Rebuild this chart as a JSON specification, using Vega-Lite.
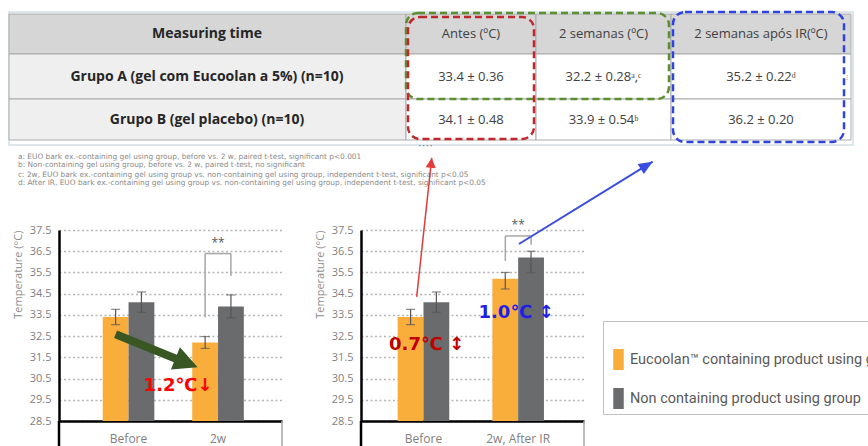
{
  "$schema": "https://vega.github.io/schema/vega-lite/v6.json",
  "background": "white",
  "padding": {"left": 8, "top": 10, "right": 0, "bottom": 0},
  "bounds": "flush",
  "spacing": 18,
  "config": {
    "view": {"stroke": null},
    "font": "Open Sans",
    "axis": {"labelFont": "Open Sans", "titleFont": "Open Sans", "ticks": false, "tickSize": 0, "domainColor": "#000000", "domainWidth": 2.5, "labelColor": "#7f7f7f", "titleColor": "#8c8c8c", "titleFontWeight": "normal", "labelOverlap": false, "labelBound": false},
    "axisY": {"grid": true, "gridColor": "#b5b5b5", "gridDash": [2, 2.5], "gridWidth": 1.4, "labelFontSize": 11, "labelPadding": 8, "titleFontSize": 11, "titlePadding": 6, "tickCount": 10, "titleAnchor": "end"},
    "axisX": {"grid": false, "labelFontSize": 12, "labelPadding": 12, "labelAngle": 0}
  },
  "datasets": {
    "bars1": [
      {"time": "Before", "group": "Eucoolan™ containing product using group", "mean": 33.4, "ep": 0.36, "em": -0.36},
      {"time": "Before", "group": "Non containing product using group", "mean": 34.1, "ep": 0.48, "em": -0.48},
      {"time": "2w", "group": "Eucoolan™ containing product using group", "mean": 32.2, "ep": 0.28, "em": -0.28},
      {"time": "2w", "group": "Non containing product using group", "mean": 33.9, "ep": 0.54, "em": -0.54}
    ],
    "bars2": [
      {"time": "Before", "group": "Eucoolan™ containing product using group", "mean": 33.4, "ep": 0.36, "em": -0.36},
      {"time": "Before", "group": "Non containing product using group", "mean": 34.1, "ep": 0.48, "em": -0.48},
      {"time": "2w, After IR", "group": "Eucoolan™ containing product using group", "mean": 35.2, "ep": 0.3, "em": -0.48},
      {"time": "2w, After IR", "group": "Non containing product using group", "mean": 36.2, "ep": 0.3, "em": -0.72}
    ]
  },
  "vconcat": [
    {
      "width": 792,
      "height": 200,
      "layer": [
        {
          "data": {"values": [{"x0": 0, "x1": 844, "y0": 0, "y1": 133}]},
          "mark": {"type": "rect", "filled": false, "stroke": "#cfe0e3", "strokeWidth": 1.5},
          "encoding": {
            "x": {"field": "x0", "type": "quantitative", "scale": {"domain": [0, 842], "range": [-50, 792], "nice": false, "zero": false}, "axis": null},
            "x2": {"field": "x1"},
            "y": {"field": "y0", "type": "quantitative", "scale": {"domain": [0, 200], "range": [0, 200], "nice": false, "zero": false}, "axis": null},
            "y2": {"field": "y1"}
          }
        },
        {
          "data": {"values": [
            {"x0": 0, "x1": 397, "y0": 2, "y1": 42, "k": "head"},
            {"x0": 397, "x1": 527, "y0": 2, "y1": 42, "k": "head"},
            {"x0": 527, "x1": 662, "y0": 2, "y1": 42, "k": "head"},
            {"x0": 662, "x1": 842, "y0": 2, "y1": 42, "k": "head"},
            {"x0": 0, "x1": 397, "y0": 42, "y1": 87, "k": "label"},
            {"x0": 397, "x1": 527, "y0": 42, "y1": 87, "k": "value"},
            {"x0": 527, "x1": 662, "y0": 42, "y1": 87, "k": "value"},
            {"x0": 662, "x1": 842, "y0": 42, "y1": 87, "k": "value"},
            {"x0": 0, "x1": 397, "y0": 87, "y1": 128, "k": "label"},
            {"x0": 397, "x1": 527, "y0": 87, "y1": 128, "k": "value"},
            {"x0": 527, "x1": 662, "y0": 87, "y1": 128, "k": "value"},
            {"x0": 662, "x1": 842, "y0": 87, "y1": 128, "k": "value"}
          ]},
          "mark": {"type": "rect", "stroke": "#ababab", "strokeWidth": 1},
          "encoding": {
            "x": {"field": "x0", "type": "quantitative", "scale": {"domain": [0, 842], "range": [-50, 792], "nice": false, "zero": false}, "axis": null},
            "x2": {"field": "x1"},
            "y": {"field": "y0", "type": "quantitative", "scale": {"domain": [0, 200], "range": [0, 200], "nice": false, "zero": false}, "axis": null},
            "y2": {"field": "y1"},
            "fill": {"field": "k", "type": "nominal", "scale": {"domain": ["head", "label", "value"], "range": ["#d6d6d6", "#efefef", "#ffffff"]}, "legend": null}
          }
        },
        {
          "data": {"values": [
            {"t": "Measuring time", "cx": 198, "cy": 22},
            {"t": "Grupo A (gel com Eucoolan a 5%) (n=10)", "cx": 198, "cy": 64.5},
            {"t": "Grupo B (gel placebo) (n=10)", "cx": 198, "cy": 107.5}
          ]},
          "mark": {"type": "text", "font": "Open Sans", "fontWeight": "bold", "fontSize": 14, "color": "#262626", "align": "center", "baseline": "middle"},
          "encoding": {
            "x": {"field": "cx", "type": "quantitative", "scale": {"domain": [0, 842], "range": [-50, 792], "nice": false, "zero": false}, "axis": null},
            "y": {"field": "cy", "type": "quantitative", "scale": {"domain": [0, 200], "range": [0, 200], "nice": false, "zero": false}, "axis": null},
            "text": {"field": "t"}
          }
        },
        {
          "data": {"values": [
            {"t": "Antes (ºC)", "cx": 462, "cy": 22},
            {"t": "2 semanas (ºC)", "cx": 594.5, "cy": 22},
            {"t": "2 semanas após IR(ºC)", "cx": 752, "cy": 22},
            {"t": "33.4 ± 0.36", "cx": 462, "cy": 64.5},
            {"t": "32.2 ± 0.28ᵃ,ᶜ", "cx": 594.5, "cy": 64.5},
            {"t": "35.2 ± 0.22ᵈ", "cx": 752, "cy": 64.5},
            {"t": "34.1 ± 0.48", "cx": 462, "cy": 107.5},
            {"t": "33.9 ± 0.54ᵇ", "cx": 594.5, "cy": 107.5},
            {"t": "36.2 ± 0.20", "cx": 752, "cy": 107.5}
          ]},
          "mark": {"type": "text", "font": "Open Sans", "fontSize": 13, "color": "#404040", "align": "center", "baseline": "middle"},
          "encoding": {
            "x": {"field": "cx", "type": "quantitative", "scale": {"domain": [0, 842], "range": [-50, 792], "nice": false, "zero": false}, "axis": null},
            "y": {"field": "cy", "type": "quantitative", "scale": {"domain": [0, 200], "range": [0, 200], "nice": false, "zero": false}, "axis": null},
            "text": {"field": "t"}
          }
        },
        {
          "data": {"values": [
            {"x0": 397, "x1": 660, "y0": 1, "y1": 87, "c": "g"},
            {"x0": 399, "x1": 525, "y0": 5, "y1": 127, "c": "r"},
            {"x0": 664, "x1": 835, "y0": 0, "y1": 130, "c": "b"}
          ]},
          "mark": {"type": "rect", "filled": false, "strokeWidth": 2.5, "strokeDash": [7, 4], "cornerRadius": 12},
          "encoding": {
            "x": {"field": "x0", "type": "quantitative", "scale": {"domain": [0, 842], "range": [-50, 792], "nice": false, "zero": false}, "axis": null},
            "x2": {"field": "x1"},
            "y": {"field": "y0", "type": "quantitative", "scale": {"domain": [0, 200], "range": [0, 200], "nice": false, "zero": false}, "axis": null},
            "y2": {"field": "y1"},
            "stroke": {"field": "c", "type": "nominal", "scale": {"domain": ["g", "r", "b"], "range": ["#5b8f31", "#c0282d", "#2f43e0"]}, "legend": null}
          }
        },
        {
          "data": {"values": [
            {"t": "a: EUO bark ex.-containing gel using group, before vs. 2 w, paired t-test, significant p<0.001", "tx": 9, "ty": 144.5},
            {"t": "b: Non-containing gel using group, before vs. 2 w, paired t-test, no significant", "tx": 9, "ty": 153},
            {"t": "c: 2w, EUO bark ex.-containing gel using group vs. non-containing gel using group, independent t-test, significant p<0.05", "tx": 9, "ty": 162.5},
            {"t": "d: After IR, EUO bark ex.-containing gel using group vs. non-containing gel using group, independent t-test, significant p<0.05", "tx": 9, "ty": 171}
          ]},
          "mark": {"type": "text", "font": "DejaVu Sans", "fontSize": 7.4, "color": "#8a8a8a", "align": "left", "baseline": "middle"},
          "encoding": {
            "x": {"field": "tx", "type": "quantitative", "scale": {"domain": [0, 842], "range": [-50, 792], "nice": false, "zero": false}, "axis": null},
            "y": {"field": "ty", "type": "quantitative", "scale": {"domain": [0, 200], "range": [0, 200], "nice": false, "zero": false}, "axis": null},
            "text": {"field": "t"}
          }
        },
        {
          "data": {"values": [{"t": "• • • •", "tx": 416.5, "ty": 134}, {"t": "⋮", "tx": 838, "ty": 65}]},
          "mark": {"type": "text", "fontSize": 6, "color": "#777777", "align": "center", "baseline": "middle"},
          "encoding": {
            "x": {"field": "tx", "type": "quantitative", "scale": {"domain": [0, 842], "range": [-50, 792], "nice": false, "zero": false}, "axis": null},
            "y": {"field": "ty", "type": "quantitative", "scale": {"domain": [0, 200], "range": [0, 200], "nice": false, "zero": false}, "axis": null},
            "text": {"field": "t"}
          }
        }
      ]
    },
    {
      "bounds": "flush",
      "spacing": 79,
      "resolve": {"scale": {"color": "independent"}},
      "hconcat": [
        {
          "width": 223,
          "height": 191,
          "resolve": {"scale": {"x": "independent"}},
          "layer": [
            {
              "data": {"name": "bars1"},
              "mark": {"type": "bar", "clip": true},
              "encoding": {
                "x": {"field": "time", "type": "nominal", "sort": ["Before", "2w"], "title": null, "scale": {"paddingInner": 0.4235, "paddingOuter": 0.4576, "align": 0.534}, "axis": {"orient": "bottom", "labelOverlap": false, "labelColor": "#7f7f7f"}},
                "xOffset": {"field": "group", "type": "nominal", "sort": ["Eucoolan™ containing product using group", "Non containing product using group"]},
                "y": {"field": "mean", "type": "quantitative", "scale": {"domain": [28.5, 37.5], "nice": false, "zero": false}, "title": "Temperature (°C)", "axis": {"values": [28.5, 29.5, 30.5, 31.5, 32.5, 33.5, 34.5, 35.5, 36.5, 37.5], "tickCount": 10, "format": ".1f", "labelOverlap": false}},
                "color": {"field": "group", "type": "nominal", "scale": {"domain": ["Eucoolan™ containing product using group", "Non containing product using group"], "range": ["#f9ae3c", "#6a6b6d"]}, "legend": null}
              }
            },
            {
              "data": {"name": "bars1"},
              "mark": {"type": "errorbar", "ticks": {"size": 9}, "color": "#555555", "thickness": 1.2},
              "encoding": {
                "x": {"field": "time", "type": "nominal", "sort": ["Before", "2w"], "axis": null, "scale": {"paddingInner": 0.4235, "paddingOuter": 0.4576, "align": 0.534}},
                "xOffset": {"field": "group", "type": "nominal", "sort": ["Eucoolan™ containing product using group", "Non containing product using group"]},
                "y": {"field": "mean", "type": "quantitative", "scale": {"domain": [28.5, 37.5], "nice": false, "zero": false}, "title": "Temperature (°C)"},
                "yError": {"field": "ep"},
                "yError2": {"field": "em"}
              }
            },
            {
              "data": {"values": [
                {"x": 0.856, "y": 33.38, "x2": 0.856, "y2": 36.39},
                {"x": 0.856, "y": 36.39, "x2": 1.144, "y2": 36.39},
                {"x": 1.144, "y": 36.39, "x2": 1.144, "y2": 35.33},
                {"x": 1.7151, "y": 28.5, "x2": 1.7151, "y2": 27.25}
              ]},
              "mark": {"type": "rule", "color": "#a6a6a6", "strokeWidth": 1.5},
              "encoding": {
                "x": {"field": "x", "type": "quantitative", "scale": {"domain": [-0.7765, 1.7151], "nice": false, "zero": false}, "axis": null},
                "x2": {"field": "x2"},
                "y": {"field": "y", "type": "quantitative", "scale": {"domain": [28.5, 37.5], "nice": false, "zero": false}, "title": "Temperature (°C)"},
                "y2": {"field": "y2"}
              }
            },
            {
              "data": {"values": [{"x": -0.7765, "y": 28.5, "x2": -0.7765, "y2": 27.25}]},
              "mark": {"type": "rule", "color": "#000000", "strokeWidth": 2.5},
              "encoding": {
                "x": {"field": "x", "type": "quantitative", "scale": {"domain": [-0.7765, 1.7151], "nice": false, "zero": false}, "axis": null},
                "x2": {"field": "x2"},
                "y": {"field": "y", "type": "quantitative", "scale": {"domain": [28.5, 37.5], "nice": false, "zero": false}, "title": "Temperature (°C)"},
                "y2": {"field": "y2"}
              }
            },
            {
              "data": {"values": [{"x": -0.144, "y": 32.59, "x2": 0.586, "y2": 31.34}]},
              "mark": {"type": "rule", "color": "#385723", "strokeWidth": 8},
              "encoding": {
                "x": {"field": "x", "type": "quantitative", "scale": {"domain": [-0.7765, 1.7151], "nice": false, "zero": false}, "axis": null},
                "x2": {"field": "x2"},
                "y": {"field": "y", "type": "quantitative", "scale": {"domain": [28.5, 37.5], "nice": false, "zero": false}, "title": "Temperature (°C)"},
                "y2": {"field": "y2"}
              }
            },
            {
              "data": {"values": [{"x": 0.773, "y": 31.03}]},
              "mark": {"type": "point", "shape": "M0,0L-2,-1L-2,1Z", "size": 576, "angle": 22, "filled": true, "color": "#385723", "opacity": 1},
              "encoding": {
                "x": {"field": "x", "type": "quantitative", "scale": {"domain": [-0.7765, 1.7151], "nice": false, "zero": false}, "axis": null},
                "y": {"field": "y", "type": "quantitative", "scale": {"domain": [28.5, 37.5], "nice": false, "zero": false}, "title": "Temperature (°C)"}
              }
            },
            {
              "data": {"values": [{"x": 1.0, "y": 36.9, "t": "**"}]},
              "mark": {"type": "text", "fontSize": 12, "color": "#595959", "align": "center", "baseline": "middle"},
              "encoding": {
                "x": {"field": "x", "type": "quantitative", "scale": {"domain": [-0.7765, 1.7151], "nice": false, "zero": false}, "axis": null},
                "y": {"field": "y", "type": "quantitative", "scale": {"domain": [28.5, 37.5], "nice": false, "zero": false}, "title": "Temperature (°C)"},
                "text": {"field": "t"}
              }
            },
            {
              "data": {"values": [{"x": 0.553, "y": 30.14, "t": "1.2℃↓"}]},
              "mark": {"type": "text", "font": "DejaVu Sans", "fontWeight": "bold", "fontSize": 18, "color": "#ff0000", "align": "center", "baseline": "middle"},
              "encoding": {
                "x": {"field": "x", "type": "quantitative", "scale": {"domain": [-0.7765, 1.7151], "nice": false, "zero": false}, "axis": null},
                "y": {"field": "y", "type": "quantitative", "scale": {"domain": [28.5, 37.5], "nice": false, "zero": false}, "title": "Temperature (°C)"},
                "text": {"field": "t"}
              }
            }
          ]
        },
        {
          "width": 223,
          "height": 191,
          "resolve": {"scale": {"x": "independent"}},
          "layer": [
            {
              "data": {"name": "bars2"},
              "mark": {"type": "bar", "clip": true},
              "encoding": {
                "x": {"field": "time", "type": "nominal", "sort": ["Before", "2w, After IR"], "title": null, "scale": {"paddingInner": 0.455, "paddingOuter": 0.405, "align": 0.478}, "axis": {"orient": "bottom", "labelOverlap": false}},
                "xOffset": {"field": "group", "type": "nominal", "sort": ["Eucoolan™ containing product using group", "Non containing product using group"]},
                "y": {"field": "mean", "type": "quantitative", "scale": {"domain": [28.5, 37.5], "nice": false, "zero": false}, "title": "Temperature (°C)", "axis": {"values": [28.5, 29.5, 30.5, 31.5, 32.5, 33.5, 34.5, 35.5, 36.5, 37.5], "tickCount": 10, "format": ".1f", "labelOverlap": false}},
                "color": {"field": "group", "type": "nominal", "scale": {"domain": ["Eucoolan™ containing product using group", "Non containing product using group"], "range": ["#f9ae3c", "#6a6b6d"]},
                  "legend": {"orient": "none", "legendX": 242, "legendY": 91, "title": " ", "titleFontSize": 8, "titlePadding": 15, "padding": 5, "strokeColor": "#bfbfbf", "symbolType": "M-0.5,-1H0.5V1H-0.5Z", "symbolSize": 441, "symbolStrokeWidth": 0, "labelFont": "Roboto", "labelFontSize": 14.5, "labelColor": "#595959", "labelOffset": 1, "rowPadding": 18, "labelLimit": 600}}
              }
            },
            {
              "data": {"name": "bars2"},
              "mark": {"type": "errorbar", "ticks": {"size": 9}, "color": "#555555", "thickness": 1.2},
              "encoding": {
                "x": {"field": "time", "type": "nominal", "sort": ["Before", "2w, After IR"], "axis": null, "scale": {"paddingInner": 0.455, "paddingOuter": 0.405, "align": 0.478}},
                "xOffset": {"field": "group", "type": "nominal", "sort": ["Eucoolan™ containing product using group", "Non containing product using group"]},
                "y": {"field": "mean", "type": "quantitative", "scale": {"domain": [28.5, 37.5], "nice": false, "zero": false}, "title": "Temperature (°C)"},
                "yError": {"field": "ep"},
                "yError2": {"field": "em"}
              }
            },
            {
              "data": {"values": [
                {"x": 0.864, "y": 36.04, "x2": 0.864, "y2": 37.22},
                {"x": 0.864, "y": 37.22, "x2": 1.136, "y2": 37.22},
                {"x": 1.136, "y": 37.22, "x2": 1.136, "y2": 36.8},
                {"x": 1.6948, "y": 28.5, "x2": 1.6948, "y2": 27.25}
              ]},
              "mark": {"type": "rule", "color": "#a6a6a6", "strokeWidth": 1.5},
              "encoding": {
                "x": {"field": "x", "type": "quantitative", "scale": {"domain": [-0.66, 1.6948], "nice": false, "zero": false}, "axis": null},
                "x2": {"field": "x2"},
                "y": {"field": "y", "type": "quantitative", "scale": {"domain": [28.5, 37.5], "nice": false, "zero": false}, "title": "Temperature (°C)"},
                "y2": {"field": "y2"}
              }
            },
            {
              "data": {"values": [{"x": -0.66, "y": 28.5, "x2": -0.66, "y2": 27.25}]},
              "mark": {"type": "rule", "color": "#000000", "strokeWidth": 2.5},
              "encoding": {
                "x": {"field": "x", "type": "quantitative", "scale": {"domain": [-0.66, 1.6948], "nice": false, "zero": false}, "axis": null},
                "x2": {"field": "x2"},
                "y": {"field": "y", "type": "quantitative", "scale": {"domain": [28.5, 37.5], "nice": false, "zero": false}, "title": "Temperature (°C)"},
                "y2": {"field": "y2"}
              }
            },
            {
              "data": {"values": [{"x": -0.072, "y": 34.35, "x2": 0.087, "y2": 40.9}]},
              "mark": {"type": "rule", "color": "#e23b3b", "strokeWidth": 1.5},
              "encoding": {
                "x": {"field": "x", "type": "quantitative", "scale": {"domain": [-0.66, 1.6948], "nice": false, "zero": false}, "axis": null},
                "x2": {"field": "x2"},
                "y": {"field": "y", "type": "quantitative", "scale": {"domain": [28.5, 37.5], "nice": false, "zero": false}, "title": "Temperature (°C)"},
                "y2": {"field": "y2"}
              }
            },
            {
              "data": {"values": [{"x": 1.008, "y": 36.84, "x2": 2.42, "y2": 40.72}]},
              "mark": {"type": "rule", "color": "#3a4de0", "strokeWidth": 2},
              "encoding": {
                "x": {"field": "x", "type": "quantitative", "scale": {"domain": [-0.66, 1.6948], "nice": false, "zero": false}, "axis": null},
                "x2": {"field": "x2"},
                "y": {"field": "y", "type": "quantitative", "scale": {"domain": [28.5, 37.5], "nice": false, "zero": false}, "title": "Temperature (°C)"},
                "y2": {"field": "y2"}
              }
            },
            {
              "data": {"values": [{"x": 0.087, "y": 40.9}]},
              "mark": {"type": "point", "shape": "M0,0L-2,-1L-2,1Z", "size": 100, "angle": -84, "filled": true, "color": "#e23b3b", "opacity": 1},
              "encoding": {
                "x": {"field": "x", "type": "quantitative", "scale": {"domain": [-0.66, 1.6948], "nice": false, "zero": false}, "axis": null},
                "y": {"field": "y", "type": "quantitative", "scale": {"domain": [28.5, 37.5], "nice": false, "zero": false}, "title": "Temperature (°C)"}
              }
            },
            {
              "data": {"values": [{"x": 2.42, "y": 40.72}]},
              "mark": {"type": "point", "shape": "M0,0L-2,-0.85L-2,0.85Z", "size": 196, "angle": -31.6, "filled": true, "color": "#3a4de0", "opacity": 1},
              "encoding": {
                "x": {"field": "x", "type": "quantitative", "scale": {"domain": [-0.66, 1.6948], "nice": false, "zero": false}, "axis": null},
                "y": {"field": "y", "type": "quantitative", "scale": {"domain": [28.5, 37.5], "nice": false, "zero": false}, "title": "Temperature (°C)"}
              }
            },
            {
              "data": {"values": [{"x": 1.0, "y": 37.74, "t": "**"}]},
              "mark": {"type": "text", "fontSize": 12, "color": "#595959", "align": "center", "baseline": "middle"},
              "encoding": {
                "x": {"field": "x", "type": "quantitative", "scale": {"domain": [-0.66, 1.6948], "nice": false, "zero": false}, "axis": null},
                "y": {"field": "y", "type": "quantitative", "scale": {"domain": [28.5, 37.5], "nice": false, "zero": false}, "title": "Temperature (°C)"},
                "text": {"field": "t"}
              }
            },
            {
              "data": {"values": [{"x": 0.032, "y": 32.07, "t": "0.7℃ ↕"}]},
              "mark": {"type": "text", "font": "DejaVu Sans", "fontWeight": "bold", "fontSize": 18, "color": "#c00000", "align": "center", "baseline": "middle"},
              "encoding": {
                "x": {"field": "x", "type": "quantitative", "scale": {"domain": [-0.66, 1.6948], "nice": false, "zero": false}, "axis": null},
                "y": {"field": "y", "type": "quantitative", "scale": {"domain": [28.5, 37.5], "nice": false, "zero": false}, "title": "Temperature (°C)"},
                "text": {"field": "t"}
              }
            },
            {
              "data": {"values": [{"x": 0.977, "y": 33.57, "t": "1.0℃ ↕"}]},
              "mark": {"type": "text", "font": "DejaVu Sans", "fontWeight": "bold", "fontSize": 18, "color": "#1f1fe6", "align": "center", "baseline": "middle"},
              "encoding": {
                "x": {"field": "x", "type": "quantitative", "scale": {"domain": [-0.66, 1.6948], "nice": false, "zero": false}, "axis": null},
                "y": {"field": "y", "type": "quantitative", "scale": {"domain": [28.5, 37.5], "nice": false, "zero": false}, "title": "Temperature (°C)"},
                "text": {"field": "t"}
              }
            }
          ]
        }
      ]
    }
  ]
}
